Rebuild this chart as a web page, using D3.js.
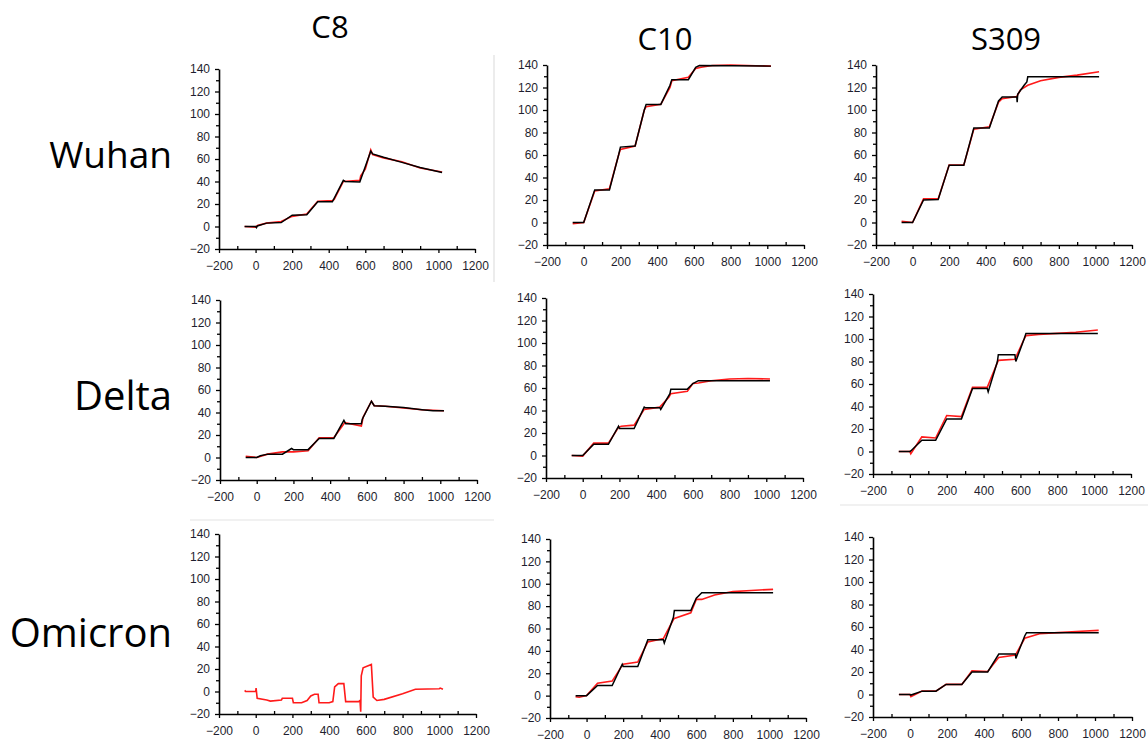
<!DOCTYPE html>
<html>
<head>
<meta charset="utf-8">
<script src="https://cdn.jsdelivr.net/npm/d3@7"></script>
<style>
  html, body { margin: 0; padding: 0; background: #fff; }
  svg { display: block; }
  .tick text { font-family: "Liberation Sans", Arial, sans-serif; font-size: 12px; fill: #1e1e2e; }
  .label { font-family: "Open Sans", "Noto Sans", sans-serif; fill: #000; }
</style>
</head>
<body>
<svg id="chart" width="1148" height="744"></svg>
<script>
// column / row headers
const columns = ['C8', 'C10', 'S309'];
const variants = ['Wuhan', 'Delta', 'Omicron'];

// axis ticks
const xTicks = [-200, 0, 200, 400, 600, 800, 1000, 1200];
const yTicks = [-20, 0, 20, 40, 60, 80, 100, 120, 140];

// [time (s), response (RU)]; fit = black, data = red
const wuhanC8Fit = [[-60,0],[0,0],[5,-1],[10,0.5],[60,3],[140,3.5],[200,10],[280,10.5],[340,22],[420,22],[480,41],[490,40],[570,39.5],[630,67],[640,64.5],[700,61.5],[800,57],[900,52.5],[1020,48]];
const wuhanC8Data = [[-60,0],[0,-0.5],[10,1],[60,3],[140,4.5],[200,9],[280,11],[340,22.5],[420,23],[430,24],[480,40],[570,41],[575,45],[600,51],[630,68],[640,64],[700,61],[800,57.5],[900,52],[1020,48.5]];

const wuhanC10Fit = [[-60,0],[0,0],[60,29],[140,29],[190,60],[200,67],[280,68],[330,100],[340,105],[420,105],[470,122],[480,127],[570,127],[610,138],[630,139.5],[1020,139]];
const wuhanC10Data = [[-60,-1],[0,0],[60,28],[140,30],[190,60],[200,65],[280,68],[330,100],[340,103],[420,105],[470,120],[480,126],[570,129],[610,137],[640,138],[700,139.5],[800,140],[1020,139]];

const wuhanS309Fit = [[-60,0],[0,0],[60,20],[140,20.5],[200,51],[280,51],[335,84],[420,84],[470,108],[490,111.5],[570,111.5],[572,107],[575,114],[610,122],[625,125],[630,129.5],[1020,129.5]];
const wuhanS309Data = [[-60,1],[0,0],[60,21],[140,21],[200,51],[280,51],[335,83],[420,85],[470,107],[490,110],[570,112],[590,118],[630,122],[700,126],[800,129],[900,131],[1020,134]];

const deltaC8Fit = [[-60,0],[0,0],[20,1.5],[60,3],[140,3],[190,8],[200,7],[280,7],[340,17],[420,17],[475,33],[485,30],[570,30],[575,34],[625,50],[640,46],[700,45.5],[800,44.5],[900,42.5],[960,41.5],[1020,41.5]];
const deltaC8Data = [[-60,1],[0,0],[60,3],[140,5],[200,5],[280,6],[340,17.5],[420,17.5],[480,31],[570,28],[580,36],[625,50],[640,46],[700,45.5],[800,44],[900,42.5],[1020,41.5]];

const deltaC10Fit = [[-60,0],[0,0],[60,10],[140,10],[195,26],[200,24],[280,24],[335,43],[340,42.5],[420,42.5],[425,41],[475,55],[480,59],[570,59],[600,64],[630,66.5],[1020,66.5]];
const deltaC10Data = [[-60,0],[0,-0.5],[60,11],[140,11],[195,25],[210,26],[280,27],[335,41],[420,43],[470,52],[480,55],[570,57],[600,64],[630,64.5],[700,66.5],[800,68],[900,68.5],[1020,68]];

const deltaS309Fit = [[-60,0],[0,0],[5,0.5],[65,10],[140,10],[200,29],[280,29],[340,56],[420,56],[425,53],[475,80],[480,86],[570,86],[575,80],[620,100],[630,105],[1020,105]];
const deltaS309Data = [[-60,0],[0,0],[5,-2],[65,13],[140,12],[200,32],[280,31],[340,57],[420,57],[475,79],[480,81],[570,82],[620,100],[630,103],[700,104],[800,105],[900,106],[1020,108]];

const omicronC8Fit = [];
const omicronC8Data = [[-60,1],[-55,0],[0,0],[2,3],[8,-6],[60,-7.5],[80,-8.5],[140,-7.5],[145,-6],[200,-6],[205,-10],[250,-10],[280,-8],[300,-4],[320,-2.5],[340,-2.5],[345,-10],[400,-10],[420,-9],[430,4],[450,7],[480,7],[490,-9],[560,-9],[568,-8],[572,-18],[575,14],[585,21],[630,24],[640,-5],[660,-8],[700,-7],[800,-2],[870,2],[1000,2.5],[1005,3],[1020,2]];

const omicronC10Fit = [[-60,0],[0,0],[60,9],[140,9],[195,28],[200,26],[280,26],[335,50],[420,50],[425,47],[475,70],[480,76],[570,76],[600,87],[630,92],[1020,92]];
const omicronC10Data = [[-60,-1],[-40,-1.5],[0,0],[60,11],[140,13],[195,27],[200,28],[280,30],[335,48],[420,51],[475,68],[480,69],[570,74],[600,86],[630,86],[700,90],[800,93],[900,94],[1020,95]];

const omicronS309Fit = [[-60,0],[0,0],[5,-0.5],[65,3],[140,3],[195,9],[280,9],[335,20],[420,20],[480,36],[570,36],[572,32],[620,52],[630,55],[1020,55]];
const omicronS309Data = [[-60,0],[0,0],[5,-2],[65,3],[140,3],[195,9],[280,9],[335,21],[420,20.5],[480,33],[570,35],[620,50],[700,54],[800,55],[900,56],[1020,57]];

const fits = [wuhanC8Fit, wuhanC10Fit, wuhanS309Fit, deltaC8Fit, deltaC10Fit, deltaS309Fit, omicronC8Fit, omicronC10Fit, omicronS309Fit];
const datas = [wuhanC8Data, wuhanC10Data, wuhanS309Data, deltaC8Data, deltaC10Data, deltaS309Data, omicronC8Data, omicronC10Data, omicronS309Data];

// pixel frame of each pasted panel (left, right, top, bottom of the plot area)
const frames = [
  [219, 475, 69, 249], [547, 804, 65, 245], [876, 1132, 65, 245],
  [220, 477, 300, 480], [546, 803, 298, 478], [873, 1131, 294, 474],
  [219, 476, 534, 714], [550, 806, 539, 718], [873, 1132, 537, 717]
];

const svg = d3.select('#chart');

// faint slide borders between the pasted screenshots
svg.append('line').attr('x1', 494).attr('x2', 494).attr('y1', 55).attr('y2', 282)
  .attr('stroke', '#e6e6e6').attr('stroke-width', 1.5);
svg.append('line').attr('x1', 190).attr('x2', 494).attr('y1', 520).attr('y2', 520)
  .attr('stroke', '#ececec').attr('stroke-width', 1.5);
svg.append('line').attr('x1', 840).attr('x2', 1148).attr('y1', 505).attr('y2', 505)
  .attr('stroke', '#ececec').attr('stroke-width', 1.5);

// headers
const colX = [330, 665, 1006];
const colY = [38, 50, 50];
columns.forEach((c, i) => {
  svg.append('text').attr('class', 'label')
    .attr('x', colX[i]).attr('y', colY[i])
    .attr('text-anchor', 'middle')
    .style('font-size', '31px')
    .text(c);
});
const rowY = [168, 410, 647];
const rowSize = [37, 40, 40];
variants.forEach((v, i) => {
  svg.append('text').attr('class', 'label')
    .attr('x', 172).attr('y', rowY[i])
    .attr('text-anchor', 'end')
    .style('font-size', rowSize[i] + 'px')
    .text(v);
});

const minorX = d3.range(-100, 1200, 200);
const minorY = d3.range(-10, 140, 20);
const fmt = d3.format('d');

frames.forEach((f, i) => {
  const [x0, x1, y0, y1] = f;
  const x = d3.scaleLinear().domain([-200, 1200]).range([x0, x1]);
  const y = d3.scaleLinear().domain([-20, 140]).range([y1, y0]);
  const g = svg.append('g');

  // minor ticks
  g.append('g').attr('transform', `translate(0,${y1})`)
    .call(d3.axisBottom(x).tickValues(minorX).tickSize(-3).tickSizeOuter(0).tickFormat(''))
    .call(a => a.select('.domain').remove());
  g.append('g').attr('transform', `translate(${x0},0)`)
    .call(d3.axisLeft(y).tickValues(minorY).tickSize(3).tickSizeOuter(0).tickFormat(''))
    .call(a => a.select('.domain').remove());

  // major axes
  const xa = g.append('g').attr('transform', `translate(0,${y1})`)
    .call(d3.axisBottom(x).tickValues(xTicks).tickFormat(fmt).tickSize(4).tickSizeOuter(0).tickPadding(8));
  const ya = g.append('g').attr('transform', `translate(${x0},0)`)
    .call(d3.axisLeft(y).tickValues(yTicks).tickFormat(fmt).tickSize(4).tickSizeOuter(0).tickPadding(5));
  [xa, ya].forEach(a => {
    a.select('.domain').attr('stroke', '#000').attr('stroke-width', 1.6);
  });
  g.selectAll('.tick line').attr('stroke', '#000').attr('stroke-width', 1.3);

  const line = d3.line().x(d => x(d[0])).y(d => y(d[1]));
  if (datas[i].length) {
    g.append('path').datum(datas[i]).attr('d', line)
      .attr('fill', 'none').attr('stroke', '#ff1a1a').attr('stroke-width', 1.6);
  }
  if (fits[i].length) {
    g.append('path').datum(fits[i]).attr('d', line)
      .attr('fill', 'none').attr('stroke', '#000').attr('stroke-width', 1.5);
  }
});
</script>
</body>
</html>
